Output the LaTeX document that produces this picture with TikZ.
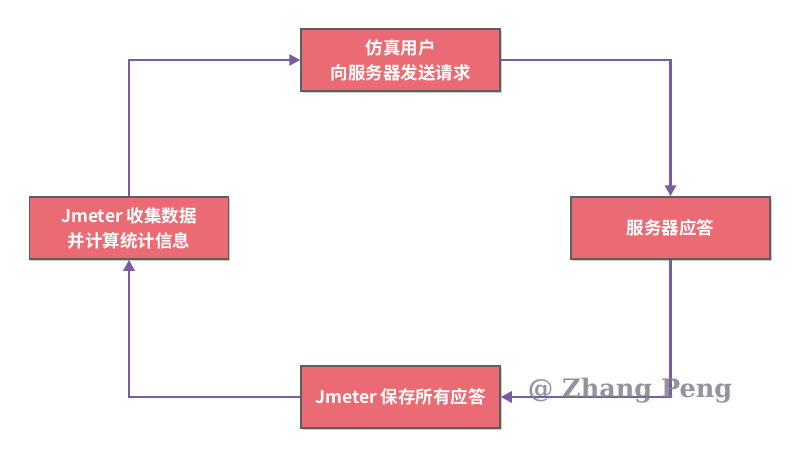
\documentclass[tikz,border=0pt]{standalone}
\usepackage{fontspec}
\setmainfont{Noto Sans CJK SC}[BoldFont={* Bold}]
\newfontfamily\wmfont{DejaVu Serif}[BoldFont={* Bold}]
\usetikzlibrary{arrows.meta,shadows}
\definecolor{boxfill}{HTML}{EA6B73}
\definecolor{boxline}{HTML}{5E5E5E}
\definecolor{arrowc}{HTML}{7B5CA0}
\definecolor{wmc}{HTML}{80808C}
\begin{document}
\begin{tikzpicture}[x=1pt,y=-1pt,
  stepbox/.style={draw=boxline,line width=1.5pt,fill=boxfill,minimum width=199pt,minimum height=62pt,
    inner sep=0pt,align=center,text=white,font=\bfseries\fontsize{17.5}{25}\selectfont,
    drop shadow={shadow xshift=1.5pt,shadow yshift=-1.5pt,opacity=0.35,fill=black!60}},
  flow/.style={draw=arrowc,line width=2.8pt,-{Triangle[length=11pt,width=11pt]}}]
\useasboundingbox (0,0) rectangle (800,458);
\node[stepbox] (top) at (400.5,60) {仿真用户\\向服务器发送请求};
\node[stepbox] (right) at (670.5,228) {服务器应答};
\node[stepbox] (bottom) at (400.5,397) {Jmeter 保存所有应答};
\node[stepbox] (left) at (129,228) {Jmeter 收集数据\\并计算统计信息};
\draw[flow] (top.east) -| (right.north);
\draw[flow] (right.south) |- (bottom.east);
\draw[flow] (bottom.west) -| (left.south);
\draw[flow] (left.north) |- (top.west);
\node[font=\wmfont\bfseries\fontsize{25.5}{26}\selectfont,text=wmc,opacity=0.85,inner sep=0pt] (wm) at (630,391) {@ Zhang Peng};
\end{tikzpicture}
\end{document}
